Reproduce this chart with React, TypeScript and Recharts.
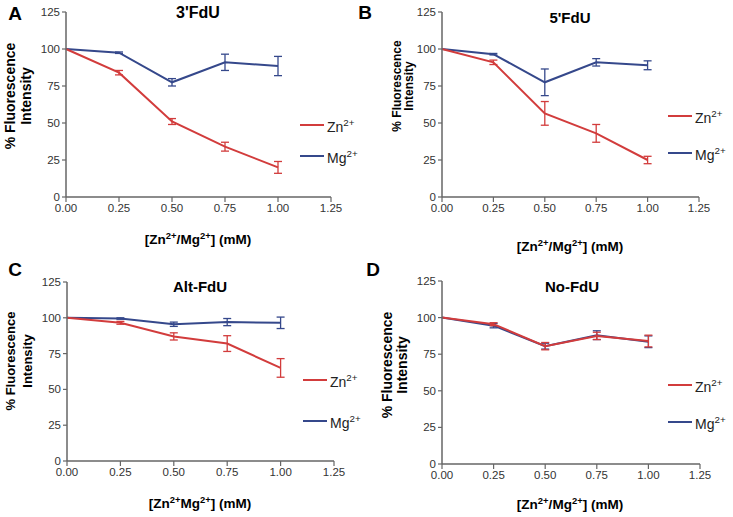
import { LineChart, Line, XAxis, YAxis, ErrorBar } from 'recharts';

const doses = [0, 0.25, 0.5, 0.75, 1.0];
const xTicks = [0, 0.25, 0.5, 0.75, 1.0, 1.25];
const yTicks = [0, 25, 50, 75, 100, 125];

// A: 3'FdU
const znA = [100, 84, 51, 34, 20];
const znErrA = [null, 1.5, 2, 3, 4];
const mgA = [100, 97.5, 77.5, 91, 88.5];
const mgErrA = [null, 0.5, 2.5, 5.5, 6.5];

// B: 5'FdU
const znB = [100, 91, 56.5, 43, 25];
const znErrB = [null, 1.5, 8, 6, 2.5];
const mgB = [100, 96.5, 77.5, 91, 89];
const mgErrB = [null, 0.5, 9, 2.5, 3];

// C: Alt-FdU
const znC = [100, 96.5, 87, 82, 65];
const znErrC = [null, 1, 2.5, 5.5, 6.5];
const mgC = [100, 99.5, 95.5, 97, 96.5];
const mgErrC = [null, 0.5, 1.5, 2.5, 4];

// D: No-FdU
const znD = [100, 95.5, 80.5, 87.5, 84];
const znErrD = [null, 1, 2.5, 2.5, 4];
const mgD = [100, 94.5, 80.5, 88, 83.5];
const mgErrD = [null, 1.5, 2, 3, 4];

const RED = '#d23c3c';
const BLUE = '#35488b';
const AXIS = '#666';
const FONT = '"Liberation Sans", Arial, sans-serif';

const buildRows = (zn: number[], znErr: (number | null)[], mg: number[], mgErr: (number | null)[]) =>
  doses.map((x, i) => ({ x, zn: zn[i], znErr: znErr[i], mg: mg[i], mgErr: mgErr[i] }));

const Ion = ({ name }: { name: string }) => (
  <span>
    {name}
    <sup style={{ fontSize: '0.7em', verticalAlign: 'super', lineHeight: 0 }}>2+</sup>
  </span>
);

type PanelProps = {
  left: number;
  top: number;
  width: number;
  height: number;
  plot: { l: number; r: number; t: number; b: number };
  letter: string;
  letterPos: [number, number];
  title: string;
  titlePos: [number, number];
  titleSize: number;
  ylab: { c1: number; c2: number; cy: number; size: number };
  xlab: { cx: number; cy: number; slash: boolean };
  legend: { x: number; yZn: number; yMg: number };
  rows: ReturnType<typeof buildRows>;
};

const centered = (x: number, y: number): React.CSSProperties => ({
  position: 'absolute',
  left: x,
  top: y,
  transform: 'translate(-50%, -50%)',
  whiteSpace: 'nowrap',
  fontFamily: FONT,
  lineHeight: 1,
});

const Panel = (p: PanelProps) => {
  const yAxisLeft = 18;
  const xAxisH = 30;
  return (
    <div style={{ position: 'absolute', left: p.left, top: p.top, width: p.width, height: p.height }}>
      <LineChart
        width={p.width}
        height={p.height}
        data={p.rows}
        margin={{ top: p.plot.t, right: p.width - p.plot.r, left: yAxisLeft, bottom: p.height - p.plot.b - xAxisH }}
      >
        <XAxis
          type="number"
          dataKey="x"
          domain={[0, 1.25]}
          ticks={xTicks}
          tickFormatter={(v: number) => v.toFixed(2)}
          height={xAxisH}
          tickSize={5}
          axisLine={{ stroke: AXIS, strokeWidth: 1.5 }}
          tickLine={{ stroke: AXIS, strokeWidth: 1.2 }}
          tick={{ fill: '#333', fontSize: 11.5, fontFamily: FONT }}
        />
        <YAxis
          type="number"
          domain={[0, 125]}
          ticks={yTicks}
          width={p.plot.l - yAxisLeft}
          tickSize={4}
          axisLine={{ stroke: AXIS, strokeWidth: 1.5 }}
          tickLine={{ stroke: AXIS, strokeWidth: 1.2 }}
          tick={{ fill: '#333', fontSize: 11.5, fontFamily: FONT }}
        />
        <Line type="linear" dataKey="mg" stroke={BLUE} strokeWidth={2} dot={false} isAnimationActive={false}>
          <ErrorBar dataKey="mgErr" direction="y" width={4} stroke={BLUE} strokeWidth={1.3} />
        </Line>
        <Line type="linear" dataKey="zn" stroke={RED} strokeWidth={2} dot={false} isAnimationActive={false}>
          <ErrorBar dataKey="znErr" direction="y" width={4} stroke={RED} strokeWidth={1.3} />
        </Line>
      </LineChart>

      <div style={{ ...centered(p.letterPos[0], p.letterPos[1]), fontSize: 19, fontWeight: 'bold' }}>{p.letter}</div>
      <div style={{ ...centered(p.titlePos[0], p.titlePos[1]), fontSize: p.titleSize, fontWeight: 'bold' }}>{p.title}</div>

      <div style={{ ...centered(p.ylab.c1, p.ylab.cy), fontSize: p.ylab.size, fontWeight: 'bold', transform: 'translate(-50%, -50%) rotate(-90deg)' }}>
        % Fluorescence
      </div>
      <div style={{ ...centered(p.ylab.c2, p.ylab.cy), fontSize: p.ylab.size, fontWeight: 'bold', transform: 'translate(-50%, -50%) rotate(-90deg)' }}>
        Intensity
      </div>

      <div style={{ ...centered(p.xlab.cx, p.xlab.cy), fontSize: 13.5, fontWeight: 'bold' }}>
        [<Ion name="Zn" />{p.xlab.slash ? '/' : ''}<Ion name="Mg" />] (mM)
      </div>

      {[
        { name: 'Zn', color: RED, y: p.legend.yZn },
        { name: 'Mg', color: BLUE, y: p.legend.yMg },
      ].map((s) => (
        <div key={s.name}>
          <div style={{ position: 'absolute', left: p.legend.x, top: s.y - 1, width: 24, height: 2, background: s.color }} />
          <div style={{ position: 'absolute', left: p.legend.x + 27, top: s.y - 5, fontFamily: FONT, fontSize: 14, lineHeight: 1, color: '#222' }}>
            <Ion name={s.name} />
          </div>
        </div>
      ))}
    </div>
  );
};

export default function App() {
  return (
    <div style={{ position: 'absolute', left: 0, top: 0, width: 733, height: 517, background: '#fff', overflow: 'hidden' }}>
      <Panel
        left={0} top={0} width={366} height={258}
        plot={{ l: 66, r: 331, t: 12, b: 197 }}
        letter="A" letterPos={[15, 13]}
        title="3'FdU" titlePos={[198, 13]} titleSize={16}
        ylab={{ c1: 10, c2: 26, cy: 96, size: 14 }}
        xlab={{ cx: 198, cy: 240, slash: true }}
        legend={{ x: 300, yZn: 125, yMg: 156 }}
        rows={buildRows(znA, znErrA, mgA, mgErrA)}
      />
      <Panel
        left={363} top={0} width={370} height={258}
        plot={{ l: 79, r: 336, t: 12, b: 197 }}
        letter="B" letterPos={[2, 12]}
        title="5'FdU" titlePos={[207, 17]} titleSize={15}
        ylab={{ c1: 34, c2: 46, cy: 86, size: 12 }}
        xlab={{ cx: 207, cy: 247, slash: true }}
        legend={{ x: 305, yZn: 116, yMg: 153 }}
        rows={buildRows(znB, znErrB, mgB, mgErrB)}
      />
      <Panel
        left={0} top={258} width={366} height={259}
        plot={{ l: 67, r: 334, t: 24, b: 203 }}
        letter="C" letterPos={[15, 11]}
        title="Alt-FdU" titlePos={[200, 28]} titleSize={15}
        ylab={{ c1: 10, c2: 27, cy: 103, size: 13 }}
        xlab={{ cx: 200, cy: 246, slash: false }}
        legend={{ x: 303, yZn: 122, yMg: 163 }}
        rows={buildRows(znC, znErrC, mgC, mgErrC)}
      />
      <Panel
        left={363} top={258} width={370} height={259}
        plot={{ l: 79, r: 337, t: 23, b: 206 }}
        letter="D" letterPos={[10, 11]}
        title="No-FdU" titlePos={[209, 28]} titleSize={15}
        ylab={{ c1: 24, c2: 39, cy: 107, size: 14 }}
        xlab={{ cx: 207, cy: 247, slash: true }}
        legend={{ x: 305, yZn: 127, yMg: 164 }}
        rows={buildRows(znD, znErrD, mgD, mgErrD)}
      />
    </div>
  );
}
